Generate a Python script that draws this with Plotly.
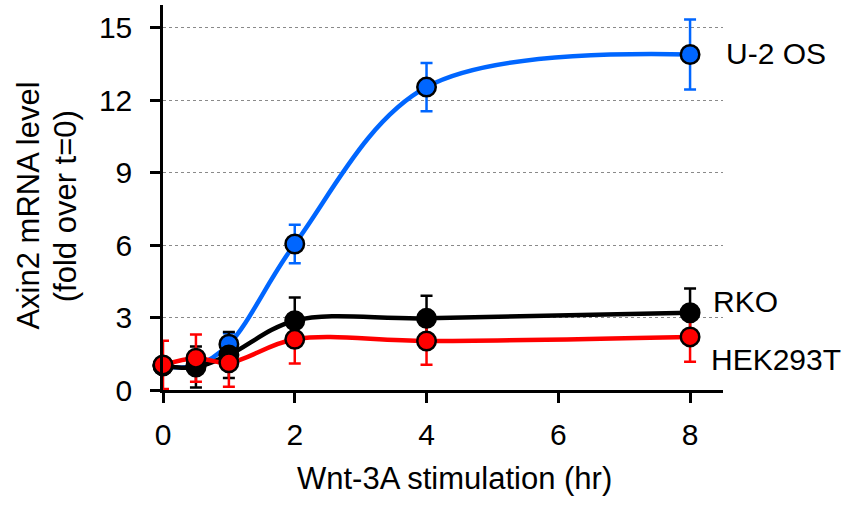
import plotly.graph_objects as go

# ---- data ----
time_hr = [0, 0.5, 1, 2, 4, 8]
series_names = ["U-2 OS", "RKO", "HEK293T"]
u2os = [1.0, 1.0, 1.9, 6.05, 12.55, 13.9]
u2os_err = [0.2, 0.2, 0.45, 0.8, 1.0, 1.45]
rko = [1.0, 0.95, 1.45, 2.87, 2.97, 3.2]
rko_err = [0.3, 0.85, 0.95, 0.96, 0.93, 1.0]
hek = [1.04, 1.32, 1.13, 2.1, 2.03, 2.2]
hek_err = [1.0, 0.98, 1.0, 1.0, 0.98, 1.03]

x_ticks = [0, 2, 4, 6, 8]
y_ticks = [0, 3, 6, 9, 12, 15]

colors = ["#0066FF", "#000000", "#FF0000"]
values = [u2os, rko, hek]
errors = [u2os_err, rko_err, hek_err]

FONT = "Liberation Sans, Arial, sans-serif"

fig = go.Figure()

# error bars first (drawn beneath every marker)
for vals, errs, col in zip(values, errors, colors):
    fig.add_trace(go.Scatter(
        x=time_hr, y=vals, mode="markers",
        marker=dict(size=1, color="rgba(0,0,0,0)"),
        error_y=dict(type="data", array=errs, visible=True, color=col,
                     thickness=2.5, width=6),
        cliponaxis=False, showlegend=False, hoverinfo="skip"))

# smooth lines with markers
for vals, col, name in zip(values, colors, series_names):
    fig.add_trace(go.Scatter(
        x=time_hr, y=vals, mode="lines+markers", name=name,
        line=dict(color=col, width=4.5, shape="spline", smoothing=1.0),
        marker=dict(size=18.5, color=col, line=dict(color="black", width=2.5)),
        cliponaxis=False, showlegend=False))

# series labels at the right end (paper coordinates)
label_pos = {"U-2 OS": (1.002, 0.875), "RKO": (0.978, 0.229), "HEK293T": (0.975, 0.078)}
for name in series_names:
    lx, ly = label_pos[name]
    fig.add_annotation(x=lx, y=ly, xref="paper", yref="paper", text=name,
                       showarrow=False, xanchor="left", yanchor="middle",
                       font=dict(family=FONT, size=30, color="black"))

# axis titles
fig.add_annotation(x=0.521, y=-0.231, xref="paper", yref="paper",
                   text="Wnt-3A stimulation (hr)", showarrow=False,
                   xanchor="center", yanchor="middle",
                   font=dict(family=FONT, size=31, color="black"))
fig.add_annotation(x=-0.24, y=0.478, xref="paper", yref="paper",
                   text="Axin2 mRNA level", showarrow=False, textangle=-90,
                   xanchor="center", yanchor="middle",
                   font=dict(family=FONT, size=31, color="black"))
fig.add_annotation(x=-0.1727, y=0.478, xref="paper", yref="paper",
                   text="(fold over t=0)", showarrow=False, textangle=-90,
                   xanchor="center", yanchor="middle",
                   font=dict(family=FONT, size=31, color="black"))

fig.update_layout(
    width=852, height=505,
    margin=dict(l=163, r=129, t=5, b=115),
    paper_bgcolor="white", plot_bgcolor="white",
    font=dict(family=FONT, size=29, color="black"),
    xaxis=dict(range=[0, 8.5], tickvals=x_ticks, showgrid=False, zeroline=False,
               showline=True, linecolor="black", linewidth=2.5,
               ticks="outside", ticklen=10, tickwidth=2.5, tickcolor="black",
               ticklabelstandoff=6,
               tickfont=dict(family=FONT, size=30, color="black")),
    yaxis=dict(range=[0, 15.95], tickvals=y_ticks, showgrid=True,
               gridcolor="#8a8a8a", gridwidth=1, griddash="dot", zeroline=False,
               showline=True, linecolor="black", linewidth=2.5,
               ticks="outside", ticklen=10, tickwidth=2.5, tickcolor="black",
               ticklabelstandoff=12,
               tickfont=dict(family=FONT, size=30, color="black")),
)

fig.write_html("out.html")
